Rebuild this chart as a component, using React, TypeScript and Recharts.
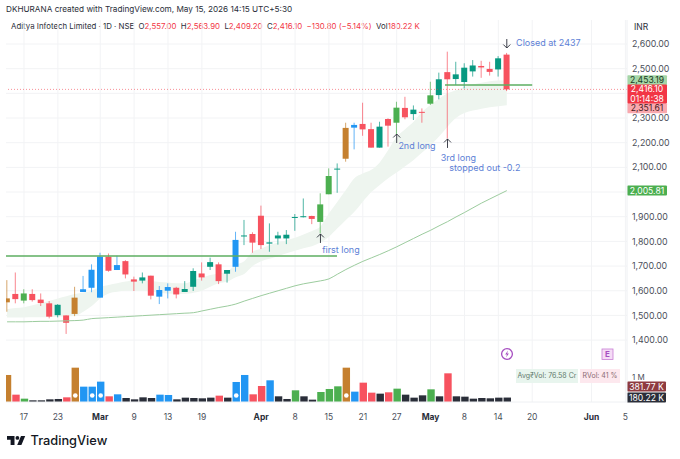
import { Area, Bar, CartesianGrid, ComposedChart, Line, ReferenceDot, ReferenceLine, XAxis, YAxis } from "recharts";

const RED = "#f7525f";
const TEAL = "#089981";
const GRN = "#4caf50";
const BLUE = "#2196f3";
const ORG = "#c5802f";
const DARK = "#2a2e39";
const NOTE = "#5d7fd6";
const FONT = "Inter, sans-serif";

const opens = [1553, 1587, 1560, 1587, 1564, 1549, 1501, 1500, 1506, 1595, 1612, 1572, 1738, 1684, 1720, 1646, 1641, 1661, 1576, 1600, 1612, 1595, 1616, 1670, 1697, 1707, 1669, 1697, 1823, 1830, 1904, 1791, 1812, 1812, 1896, 1899, 1903, 1879, 1991, 2091, 2135, 2261, 2276, 2255, 2180, 2296, 2281, 2341, 2316, 2325, 2358, 2393, 2486, 2458, 2446, 2489, 2511, 2499, 2497, 2557];
const highs = [1643, 1674, 1606, 1606, 1589, 1558, 1546, 1500, 1616, 1660, 1707, 1754, 1751, 1742, 1724, 1657, 1674, 1661, 1619, 1630, 1616, 1639, 1691, 1715, 1734, 1715, 1684, 1839, 1887, 1837, 1945, 1873, 1839, 1846, 1911, 1974, 1904, 1995, 2096, 2116, 2281, 2281, 2362, 2281, 2285, 2299, 2366, 2386, 2351, 2339, 2447, 2484, 2569, 2528, 2522, 2535, 2532, 2528, 2551, 2563.9];
const lows = [1515, 1549, 1549, 1556, 1538, 1488, 1492, 1425, 1497, 1595, 1594, 1572, 1677, 1684, 1650, 1599, 1630, 1565, 1546, 1569, 1569, 1595, 1599, 1641, 1684, 1627, 1633, 1677, 1785, 1754, 1769, 1758, 1787, 1789, 1843, 1897, 1870, 1833, 1991, 1997, 2123, 2173, 2228, 2180, 2180, 2184, 2235, 2295, 2292, 2281, 2353, 2376, 2217, 2434, 2420, 2468, 2463, 2472, 2468, 2409.2];
const closes = [1569, 1566, 1589, 1562, 1550, 1495, 1543, 1470, 1572, 1606, 1685, 1738, 1681, 1704, 1666, 1637, 1654, 1580, 1603, 1615, 1585, 1607, 1680, 1654, 1716, 1639, 1684, 1806, 1824, 1795, 1785, 1796, 1824, 1827, 1899, 1902, 1891, 1950, 2065, 2095, 2260, 2272, 2254, 2180, 2265, 2269, 2342, 2303, 2334, 2323, 2392, 2457, 2457, 2477, 2504, 2513, 2505, 2487, 2542, 2416.1];
const candleColors = [ORG, RED, GRN, RED, RED, RED, TEAL, RED, ORG, BLUE, BLUE, BLUE, RED, BLUE, RED, RED, TEAL, RED, BLUE, BLUE, RED, TEAL, TEAL, RED, TEAL, RED, TEAL, BLUE, TEAL, RED, RED, TEAL, TEAL, TEAL, TEAL, TEAL, RED, GRN, GRN, TEAL, ORG, BLUE, RED, RED, TEAL, RED, GRN, RED, TEAL, RED, GRN, TEAL, RED, TEAL, TEAL, TEAL, RED, RED, TEAL, RED];

const volumes = [1094, 297, 135, 68, 68, 108, 122, 189, 1390, 621, 621, 824, 230, 311, 162, 108, 189, 162, 297, 284, 108, 176, 162, 149, 176, 257, 176, 810, 1094, 311, 648, 878, 230, 122, 473, 230, 95, 405, 527, 635, 1390, 419, 783, 378, 338, 392, 540, 297, 176, 270, 513, 230, 1161, 230, 216, 135, 162, 149, 176, 180];
const volumeColors = [ORG, RED, GRN, DARK, DARK, DARK, DARK, RED, ORG, BLUE, BLUE, BLUE, RED, BLUE, DARK, DARK, DARK, DARK, BLUE, BLUE, DARK, DARK, DARK, DARK, DARK, RED, DARK, BLUE, BLUE, RED, RED, BLUE, DARK, DARK, GRN, DARK, DARK, GRN, GRN, GRN, ORG, BLUE, RED, RED, DARK, RED, GRN, DARK, DARK, DARK, GRN, DARK, RED, DARK, DARK, DARK, DARK, DARK, DARK, DARK];
const volumeDots = [8, 10, 11, 27, 40];

const bandUpper = [1525, 1530, 1533, 1541, 1549, 1559, 1569, 1578, 1587, 1593, 1600, 1616, 1623, 1630, 1637, 1643, 1643, 1639, 1635, 1633, 1630, 1630, 1643, 1653, 1664, 1670, 1678, 1705, 1720, 1758, 1770, 1785, 1795, 1805, 1815, 1828, 1842, 1860, 1914, 1961, 2008, 2056, 2075, 2090, 2120, 2170, 2224, 2255, 2285, 2325, 2353, 2378, 2400, 2413, 2427, 2436, 2443, 2449, 2452, 2453];
const bandLower = [1492, 1492, 1492, 1493, 1493, 1494, 1495, 1497, 1498, 1515, 1538, 1569, 1589, 1596, 1600, 1600, 1600, 1596, 1592, 1589, 1587, 1587, 1592, 1600, 1616, 1630, 1637, 1655, 1668, 1700, 1720, 1730, 1740, 1752, 1762, 1772, 1780, 1795, 1819, 1853, 1887, 1920, 1961, 2000, 2029, 2056, 2079, 2105, 2130, 2160, 2190, 2225, 2265, 2300, 2320, 2330, 2338, 2344, 2348, 2351.6];
const slowAverage = [1474, 1474, 1474, 1475, 1476, 1476, 1477, 1478, 1479, 1481, 1487, 1489, 1491, 1493, 1495, 1497, 1499, 1501, 1503, 1505, 1507, 1509, 1511, 1518, 1525, 1532, 1538, 1546, 1558, 1569, 1580, 1590, 1600, 1610, 1620, 1628, 1634, 1640, 1648, 1667, 1686, 1703, 1719, 1733, 1747, 1762, 1778, 1795, 1812, 1829, 1845, 1863, 1880, 1899, 1917, 1936, 1955, 1972, 1989, 2005.8];

const rows = opens.map((open, i) => ({
  i,
  open,
  close: closes[i],
  range: [lows[i], highs[i]],
  band: [bandLower[i], bandUpper[i]],
  slow: slowAverage[i],
  color: candleColors[i],
  volume: volumes[i],
  volColor: volumeColors[i],
  dot: volumeDots.includes(i),
}));

const xTicks = [2, 6, 11, 15, 19, 23, 30, 34, 38, 42, 46, 50, 54, 58, 62, 69, 73];
const xLabels = ["17", "23", "Mar", "9", "13", "19", "Apr", "8", "15", "21", "27", "May", "8", "14", "20", "Jun", "5"];
const gridPrices = [1400, 1500, 1600, 1700, 1800, 1900, 2000, 2100, 2200, 2300, 2400, 2500, 2600];
const priceTicks = [1400, 1500, 1600, 1700, 1800, 1900, 2100, 2200, 2300, 2500, 2600];

const xDomain = [-0.125, 73.19];
const priceDomain = [1299, 2697.3];

const notes = [
  { i: 60.1, price: 2608, text: "Closed at 2437" },
  { i: 46.2, price: 2187, text: "2nd long" },
  { i: 51.2, price: 2142, text: "3rd long" },
  { i: 52.2, price: 2101, text: "stopped out -0.2" },
  { i: 37.2, price: 1769, text: "first long" },
];
const arrows = [
  { i: 59, price: 2600, up: false },
  { i: 46, price: 2219, up: true },
  { i: 52, price: 2199, up: true },
  { i: 37, price: 1814, up: true },
];
const priceTags = [
  { price: 2453.19, lines: ["2,453.19"], bg: "#a5d6a7", fg: "#1b3a1d", nudge: 0 },
  { price: 2351.61, lines: ["2,351.61"], bg: "#f9a8ae", fg: "#4a1a1e", nudge: 3 },
  { price: 2416.1, lines: ["2,416.10", "01:14:38"], bg: "#f23645", fg: "#ffffff", nudge: 0 },
  { price: 2005.81, lines: ["2,005.81"], bg: "#4caf50", fg: "#ffffff", nudge: 0 },
];
const volumeTags = [
  { value: 381.77, text: "381.77 K", bg: "#8e3b40", nudge: -6 },
  { value: 180.22, text: "180.22 K", bg: DARK, nudge: 0 },
];

function Candle(props: any) {
  const { x, y, width, height, payload } = props;
  const [low, high] = payload.range;
  const k = height / (high - low);
  const top = y + (high - Math.max(payload.open, payload.close)) * k;
  const bodyHeight = Math.max(Math.abs(payload.open - payload.close) * k, 1);
  return (
    <g>
      <rect x={x + width / 2 - 0.5} y={y} width={1} height={height} fill={payload.color} opacity={0.7} />
      <rect x={x} y={top} width={width} height={bodyHeight} fill={payload.color} />
    </g>
  );
}

function VolumeBar(props: any) {
  const { x, y, width, height, payload } = props;
  return (
    <g>
      <rect x={x} y={y} width={width} height={height} fill={payload.volColor} />
      {payload.dot && <circle cx={x + width / 2} cy={y + height - 6.5} r={2.3} fill="#fff" />}
    </g>
  );
}

function DateTick({ x, y, payload }: any) {
  const label = xLabels[xTicks.indexOf(payload.value)];
  const bold = ["Mar", "Apr", "May", "Jun"].includes(label);
  return (
    <text x={x} y={y + 10} textAnchor="middle" fontSize={8.5} fontWeight={bold ? 700 : 400} fill={bold ? "#2a2e39" : "#4b4f5a"} fontFamily={FONT}>
      {label}
    </text>
  );
}

function PriceTag({ viewBox, tag }: any) {
  const two = tag.lines.length > 1;
  const y = viewBox.y + tag.nudge - 5;
  const h = two ? 19 : 10;
  return (
    <g fontFamily={FONT} fontSize={8.6} textAnchor="middle">
      <rect x={627} y={y} width={40} height={h} rx={1} fill={tag.bg} />
      {tag.lines.map((line: string, n: number) => (
        <text key={line} x={647} y={y + 8 + n * 9.5} fill={tag.fg}>
          {line}
        </text>
      ))}
    </g>
  );
}

function VolumeTag({ viewBox, tag }: any) {
  const y = viewBox.y + tag.nudge - 5;
  return (
    <g fontFamily={FONT} fontSize={8.6} textAnchor="middle">
      <rect x={627} y={y} width={39} height={10} rx={1} fill={tag.bg} />
      <text x={646.5} y={y + 8} fill="#fff">
        {tag.text}
      </text>
    </g>
  );
}

function Arrow({ cx, cy, up }: any) {
  const d = up ? `M${cx} ${cy - 4}V${cy + 5}M${cx - 3.5} ${cy - 0.5}L${cx} ${cy - 4}L${cx + 3.5} ${cy - 0.5}` : `M${cx} ${cy - 5}V${cy + 4}M${cx - 3.5} ${cy + 0.5}L${cx} ${cy + 4}L${cx + 3.5} ${cy + 0.5}`;
  return <path d={d} stroke="#2a2e39" strokeWidth={0.9} fill="none" />;
}

function NoteText({ cx, cy, text }: any) {
  return (
    <text x={cx} y={cy + 3.5} fontSize={9} fill={NOTE} fontFamily={FONT}>
      {text}
    </text>
  );
}

const tickStyle = { fill: "#4b4f5a", fontSize: 8.8, fontFamily: FONT };
const headerNum = { color: "#f23645" };

export default function App() {
  return (
    <div style={{ position: "absolute", left: 0, top: 0, width: 680, height: 459, background: "#fff", overflow: "hidden", fontFamily: FONT }}>
      <div style={{ position: "absolute", left: 6, top: 4, fontSize: 8.2, color: "#2a2e39", whiteSpace: "nowrap" }}>
        DKHURANA created with TradingView.com, May 15, 2026 14:15 UTC+5:30
      </div>
      <div style={{ position: "absolute", left: 11, top: 21, fontSize: 7.85, color: "#2a2e39", whiteSpace: "nowrap" }}>
        Aditya Infotech Limited · 1D · NSE&nbsp; O<span style={headerNum}>2,557.00</span>&nbsp; H<span style={headerNum}>2,563.90</span>&nbsp; L<span style={headerNum}>2,409.20</span>&nbsp; C<span style={headerNum}>2,416.10</span>&nbsp; <span style={headerNum}>−130.80 (−5.14%)</span>&nbsp; Vol<span style={headerNum}>180.22 K</span>
      </div>
      <div style={{ position: "absolute", left: 634, top: 22, fontSize: 8.5, color: "#2a2e39" }}>INR</div>

      <div style={{ position: "absolute", left: 0, top: 0 }}>
        <ComposedChart width={680} height={365} data={rows} margin={{ top: 20, right: 0, bottom: 0, left: 6 }}>
          <CartesianGrid stroke="#f2f3f5" strokeWidth={1} horizontalValues={gridPrices} verticalValues={xTicks} />
          <XAxis dataKey="i" type="number" domain={xDomain} ticks={xTicks} hide allowDataOverflow />
          <YAxis orientation="right" domain={priceDomain} ticks={priceTicks} width={53} interval={0} allowDataOverflow tick={tickStyle} tickLine={false} tickSize={3} axisLine={{ stroke: "#eef0f3" }} tickFormatter={(v: number) => v.toLocaleString("en-US", { minimumFractionDigits: 2 })} />
          <Area type="monotone" dataKey="band" stroke="none" fill="#eef5ef" fillOpacity={1} isAnimationActive={false} dot={false} activeDot={false} />
          <Line type="monotone" dataKey="slow" stroke="#9ccc9e" strokeWidth={1} dot={false} activeDot={false} isAnimationActive={false} />
          <ReferenceLine y={2416.1} stroke="#f23645" strokeDasharray="1 2" strokeWidth={0.8} strokeOpacity={0.7} />
          <ReferenceLine segment={[{ x: -0.125, y: 1741 }, { x: 38.95, y: 1741 }]} stroke="#5cae60" strokeWidth={1.4} />
          <ReferenceLine segment={[{ x: 51.7, y: 2434 }, { x: 62, y: 2434 }]} stroke="#5cae60" strokeWidth={1.4} />
          <Bar dataKey="range" barSize={6} shape={<Candle />} isAnimationActive={false} />
          {arrows.map((a) => (
            <ReferenceDot key={a.i} x={a.i} y={a.price} r={0} shape={<Arrow up={a.up} />} />
          ))}
          {notes.map((n) => (
            <ReferenceDot key={n.text} x={n.i} y={n.price} r={0} shape={<NoteText text={n.text} />} />
          ))}
          {priceTags.map((tag) => (
            <ReferenceLine key={tag.price} y={tag.price} stroke="none" label={<PriceTag tag={tag} />} />
          ))}
        </ComposedChart>
      </div>

      <div style={{ position: "absolute", left: 0, top: 365 }}>
        <ComposedChart width={680} height={58} data={rows} margin={{ top: 0, right: 0, bottom: 0, left: 6 }}>
          <CartesianGrid stroke="#f2f3f5" strokeWidth={1} horizontal={false} verticalValues={xTicks} />
          <XAxis dataKey="i" type="number" domain={xDomain} ticks={xTicks} interval={0} height={21} tick={<DateTick />} tickLine={false} axisLine={{ stroke: "#eef0f3" }} allowDataOverflow />
          <YAxis orientation="right" domain={[0, 1498]} ticks={[1000]} width={53} allowDataOverflow tick={{ ...tickStyle, fontSize: 8 }} tickLine={false} tickSize={3} axisLine={{ stroke: "#eef0f3" }} tickFormatter={() => "1 M"} />
          <Bar dataKey="volume" barSize={7.4} shape={<VolumeBar />} isAnimationActive={false} />
          {volumeTags.map((tag) => (
            <ReferenceLine key={tag.value} y={tag.value} stroke="none" label={<VolumeTag tag={tag} />} />
          ))}
        </ComposedChart>
      </div>

      <svg style={{ position: "absolute", left: 500, top: 346 }} width={120} height={16}>
        <circle cx={7} cy={8} r={5.4} fill="none" stroke="#a74fc1" strokeWidth={1.3} />
        <path d="M8 4.5L5.2 8.6H7L6 11.5L8.9 7.4H7.1Z" fill="#a74fc1" />
        <rect x={102} y={3} width={11} height={10.5} fill="#f5dcf6" stroke="#c77dd4" strokeWidth={0.8} />
        <text x={107.5} y={11.4} textAnchor="middle" fontSize={8} fontWeight={700} fill="#a74fc1" fontFamily={FONT}>E</text>
      </svg>
      <div style={{ position: "absolute", left: 516, top: 369, width: 62, height: 14, background: "#e8f5ee", color: "#5f7a6c", fontSize: 7, lineHeight: "14px", textAlign: "center", whiteSpace: "nowrap" }}>Avg₹Vol: 76.58 Cr</div>
      <div style={{ position: "absolute", left: 580, top: 369, width: 40, height: 14, background: "#fde8ee", color: "#8a6a72", fontSize: 7, lineHeight: "14px", textAlign: "center", whiteSpace: "nowrap" }}>RVol: 41 %</div>

      <svg style={{ position: "absolute", left: 7, top: 432 }} width={110} height={18}>
        <path d="M0 4H7.5V13H3.6V7.8H0Z" fill="#131722" />
        <circle cx={10.4} cy={5.9} r={1.9} fill="#131722" />
        <path d="M14 4H18.2L14.4 13H10.2Z" fill="#131722" />
        <text x={23.5} y={13.4} fontSize={12.8} fontWeight={500} fill="#131722" fontFamily={FONT}>TradingView</text>
      </svg>
    </div>
  );
}
